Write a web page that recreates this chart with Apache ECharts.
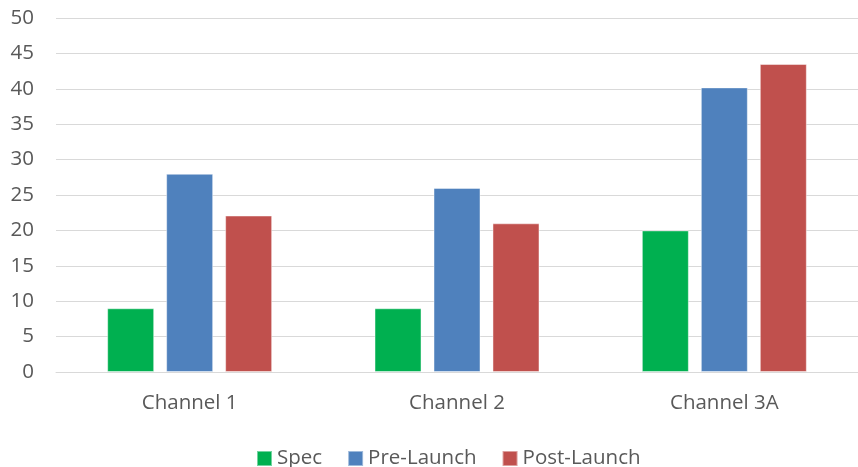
<!DOCTYPE html>
<html>
<head>
<meta charset="utf-8">
<script src="https://cdn.jsdelivr.net/npm/echarts@6/dist/echarts.min.js"></script>
<style>
  html, body { margin: 0; padding: 0; background: #fff; }
  #chart { width: 858px; height: 467px; }
</style>
</head>
<body>
<div id="chart"></div>
<script>
// Channels along the x axis
const categories = ['Channel 1', 'Channel 2', 'Channel 3A'];

// Values per series
const specValues = [9, 9, 20];
const preLaunchValues = [28, 26, 40.2];
const postLaunchValues = [22.1, 21, 43.5];

// Y axis range
const yMin = 0;
const yMax = 50;
const yStep = 5;

const FONT = 'Open Sans';
const TEXT = '#595959';
const GRID = '#D9D9D9';
const FS = 20.5;

const chart = echarts.init(document.getElementById('chart'), null, { renderer: 'canvas' });

function barSeries(name, data, color) {
  return {
    name: name,
    type: 'bar',
    data: data,
    barWidth: 47,
    barGap: '25.5%',
    itemStyle: { color: color, borderColor: 'rgba(255,255,255,0.45)', borderWidth: 1 }
  };
}

chart.setOption({
  animation: false,
  textStyle: { fontFamily: FONT },
  grid: { left: 56, top: 18, width: 807, height: 354, containLabel: false },
  legend: {
    top: 448,
    left: 256,
    padding: 0,
    itemWidth: 15,
    itemHeight: 15,
    itemGap: 25,
    icon: 'rect',
    textStyle: { color: TEXT, fontSize: FS, fontFamily: FONT },
    data: ['Spec', 'Pre-Launch', 'Post-Launch']
  },
  xAxis: {
    type: 'category',
    data: categories,
    axisLine: { show: true, lineStyle: { color: GRID, width: 1 } },
    axisTick: { show: false },
    axisLabel: { color: TEXT, fontSize: FS, fontFamily: FONT, margin: 21 }
  },
  yAxis: {
    type: 'value',
    min: yMin,
    max: yMax,
    interval: yStep,
    axisLine: { show: false },
    axisTick: { show: false },
    splitLine: { lineStyle: { color: GRID, width: 1 } },
    axisLabel: { color: TEXT, fontSize: FS, fontFamily: FONT, margin: 22 }
  },
  series: [
    barSeries('Spec', specValues, '#00B050'),
    barSeries('Pre-Launch', preLaunchValues, '#4F81BD'),
    barSeries('Post-Launch', postLaunchValues, '#C0504D')
  ]
});
</script>
</body>
</html>
